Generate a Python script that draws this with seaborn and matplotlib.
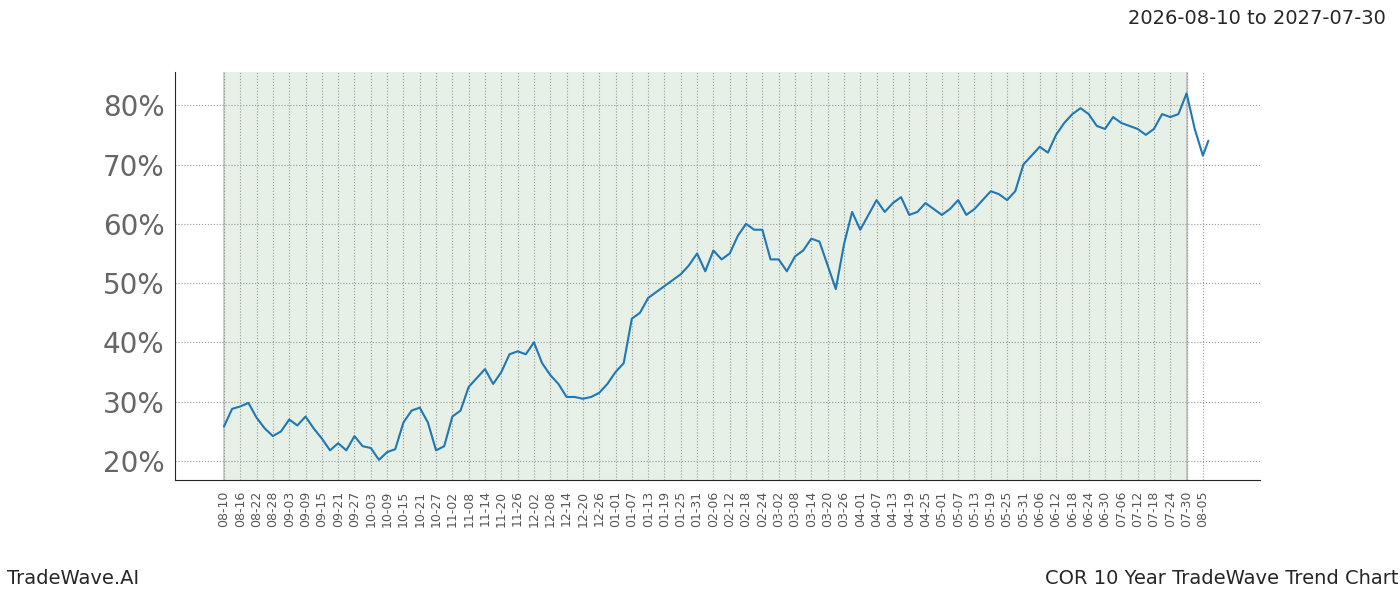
import matplotlib
matplotlib.use("Agg")
import matplotlib.pyplot as plt
import matplotlib.dates as mdates
import seaborn as sns
import pandas as pd
import numpy as np

day_offsets = list(range(0, 361, 3)) + [362]
values = [25.8, 28.8, 29.2, 29.8, 27.3, 25.5, 24.2, 25.0, 27.0, 26.0, 27.5, 25.5, 23.8, 21.8, 23.0, 21.8,
          24.2, 22.5, 22.2, 20.2, 21.5, 22.0, 26.5, 28.5, 29.0, 26.5, 21.8, 22.5, 27.5, 28.5, 32.5, 34.0,
          35.5, 33.0, 35.0, 38.0, 38.5, 38.0, 40.0, 36.5, 34.5, 33.0, 30.8, 30.8, 30.5, 30.8, 31.5, 33.0,
          35.0, 36.5, 44.0, 45.0, 47.5, 48.5, 49.5, 50.5, 51.5, 53.0, 55.0, 52.0, 55.5, 54.0, 55.0, 58.0,
          60.0, 59.0, 59.0, 54.0, 54.0, 52.0, 54.5, 55.5, 57.5, 57.0, 53.0, 49.0, 56.5, 62.0, 59.0, 61.5,
          64.0, 62.0, 63.5, 64.5, 61.5, 62.0, 63.5, 62.5, 61.5, 62.5, 64.0, 61.5, 62.5, 64.0, 65.5, 65.0,
          64.0, 65.5, 70.0, 71.5, 73.0, 72.0, 75.0, 77.0, 78.5, 79.5, 78.5, 76.5, 76.0, 78.0, 77.0, 76.5,
          76.0, 75.0, 76.0, 78.5, 78.0, 78.5, 82.0, 76.0, 71.5, 74.0]

start = pd.Timestamp("2026-08-10")
span_end = pd.Timestamp("2027-07-30")
dates = [start + pd.Timedelta(days=d) for d in day_offsets]
df = pd.DataFrame({"date": dates, "value": values})

sns.set_style("white")
fig = plt.figure(figsize=(14, 6), dpi=100)
ax = fig.add_axes([0.125, 0.2, 0.775, 0.68])
ax.axvspan(start, span_end, color="#e6f0e6", zorder=0)
ax.axvline(start, color="#c8d2c8", lw=1.5, zorder=0)
ax.axvline(span_end, color="#c8c8c8", lw=1.5, zorder=0)
sns.lineplot(data=df, x="date", y="value", ax=ax, color="#1f77b4", lw=1.5, zorder=3)

ticks = [start + pd.Timedelta(days=6 * i) for i in range(61)]
ax.set_xticks(ticks)
ax.set_xticklabels([t.strftime("%m-%d") for t in ticks], rotation=90, fontsize=9, color="#555555")
ax.set_xlim(start - pd.Timedelta(days=18), start + pd.Timedelta(days=381))
ax.set_ylim(16.8, 85.6)
ax.set_yticks([20, 30, 40, 50, 60, 70, 80])
ax.set_yticklabels([f"{v}%" for v in [20, 30, 40, 50, 60, 70, 80]], fontsize=20, color="#666666")
ax.grid(True, color="#999999", linestyle=":", linewidth=0.8)
ax.set_axisbelow(True)
ax.set_xlabel("")
ax.set_ylabel("")
for s in ["top", "right"]:
    ax.spines[s].set_visible(False)
ax.tick_params(axis="both", length=4)

fig.text(0.99, 0.97, "2026-08-10 to 2027-07-30", ha="right", va="center", fontsize=14)
fig.text(0.005, 0.02, "TradeWave.AI", ha="left", va="bottom", fontsize=14)
fig.text(0.999, 0.02, "COR 10 Year TradeWave Trend Chart", ha="right", va="bottom", fontsize=14)
fig.savefig("out.png", dpi=100)
